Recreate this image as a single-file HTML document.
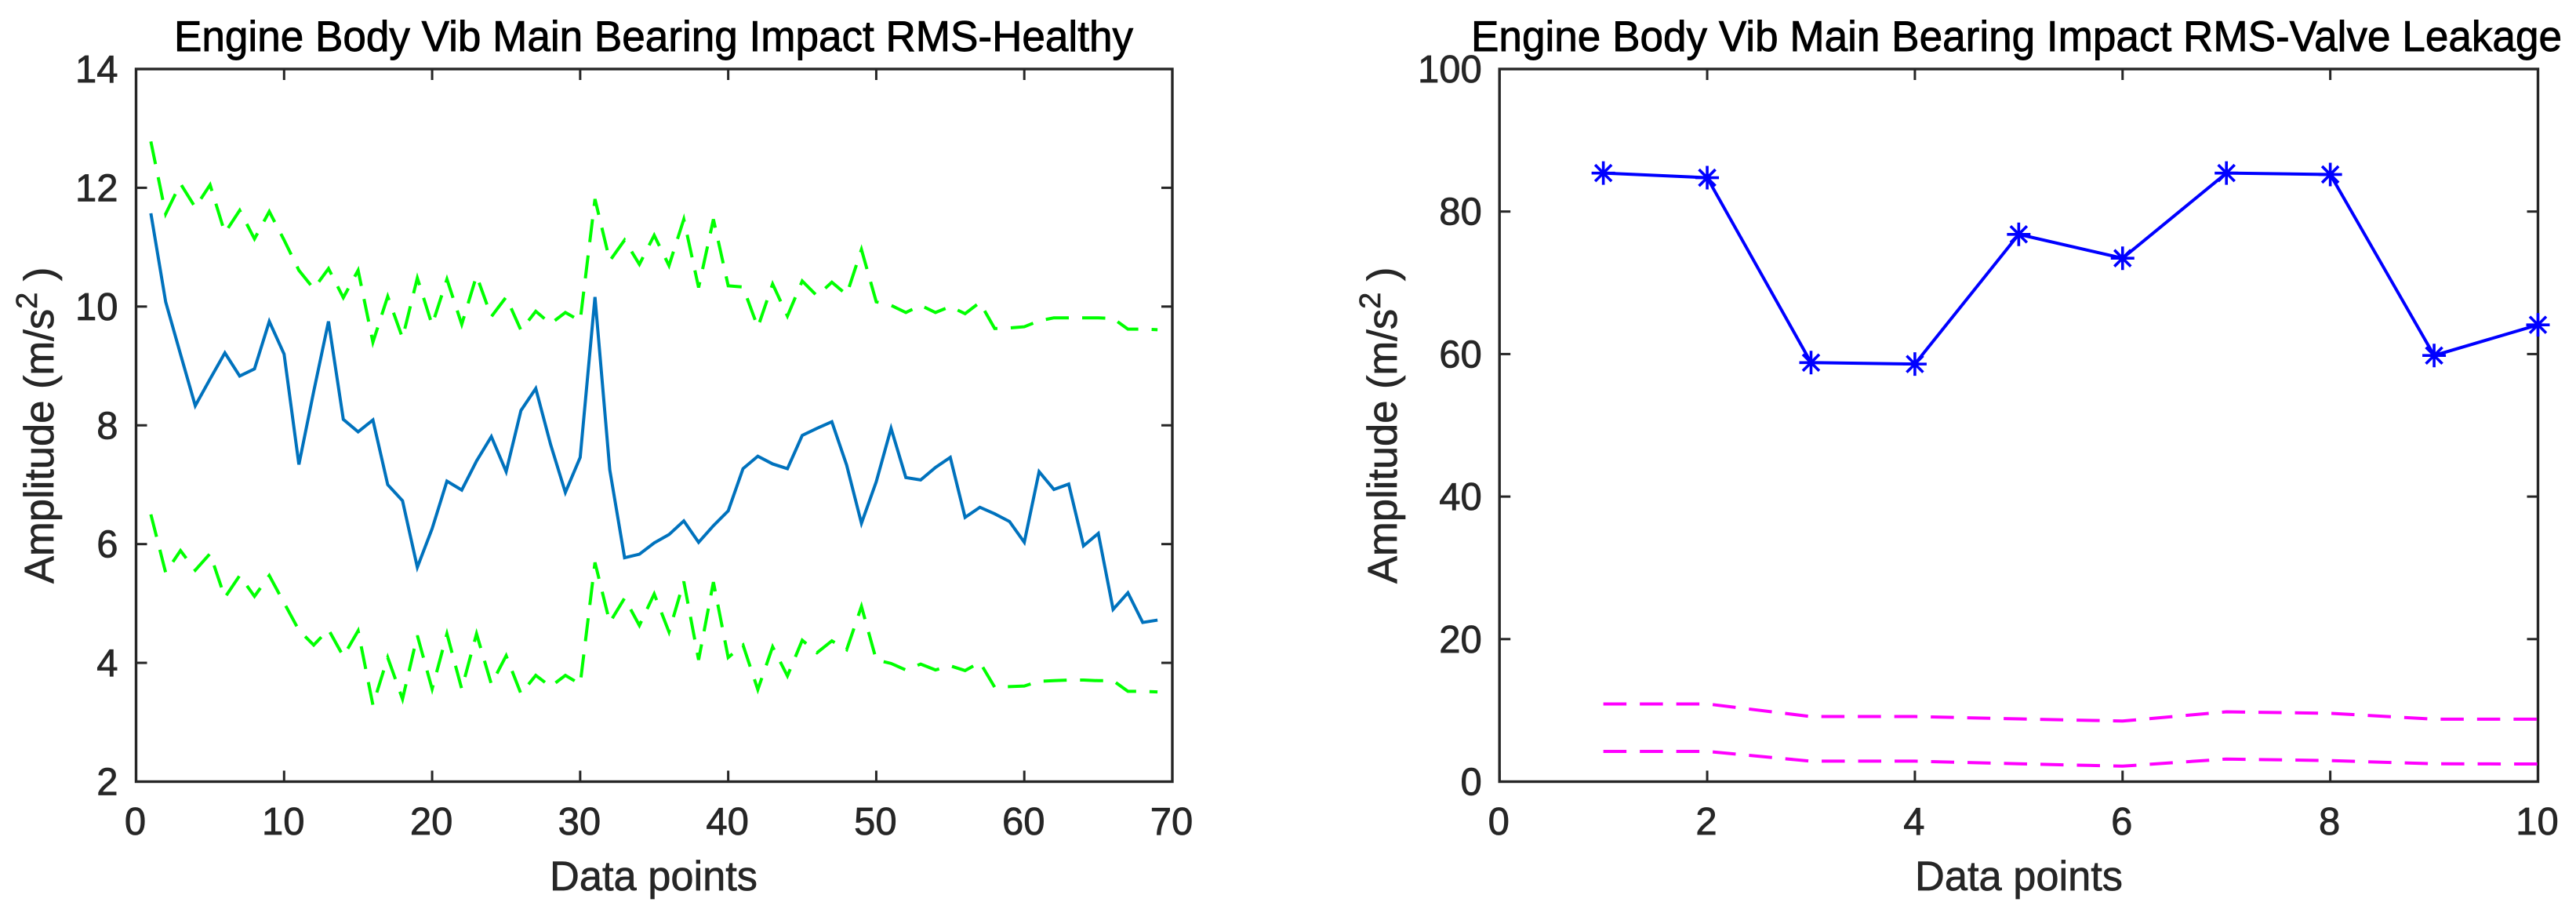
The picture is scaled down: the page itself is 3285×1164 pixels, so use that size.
<!DOCTYPE html>
<html lang="en">
<head>
<meta charset="utf-8">
<title>Engine Body Vib Main Bearing Impact RMS</title>
<style>
html,body{margin:0;padding:0;background:#fff;}
svg{display:block;}
text{font-family:"Liberation Sans",Arial,sans-serif;}
.tick{font-size:49px;fill:#262626;stroke:#262626;stroke-width:0.8px;}
.lab{font-size:52.5px;fill:#262626;stroke:#262626;stroke-width:0.7px;}
.ttl{font-size:55px;fill:#000;stroke:#000;stroke-width:0.9px;}
</style>
</head>
<body>
<svg id="chart" xmlns="http://www.w3.org/2000/svg" width="3285" height="1164" viewBox="0 0 3285 1164">
  <rect x="0" y="0" width="3285" height="1164" fill="#fff"/>
  <text class="ttl" x="222" y="65" textLength="1223" lengthAdjust="spacingAndGlyphs">Engine Body Vib Main Bearing Impact RMS-Healthy</text>
  <text class="ttl" x="1876" y="65" textLength="1391" lengthAdjust="spacingAndGlyphs">Engine Body Vib Main Bearing Impact RMS-Valve Leakage</text>
  <text class="lab" x="701" y="1135" textLength="265" lengthAdjust="spacingAndGlyphs">Data points</text>
  <text class="lab" x="2442" y="1135" textLength="265" lengthAdjust="spacingAndGlyphs">Data points</text>
  <text class="lab" transform="translate(68,744) rotate(-90)">Amplitude (m/s<tspan font-size="38" dy="-21">2</tspan><tspan dy="21"> )</tspan></text>
  <text class="lab" transform="translate(1781,744) rotate(-90)">Amplitude (m/s<tspan font-size="38" dy="-21">2</tspan><tspan dy="21"> )</tspan></text>
  <g id="left-plot"></g>
  <g id="right-plot"></g>
</svg>
<script>
// ---- Healthy panel data ----
const healthyXTicks = [0, 10, 20, 30, 40, 50, 60, 70];
const healthyYTicks = [2, 4, 6, 8, 10, 12, 14];
const healthyRms = [11.57,10.08,9.2,8.33,8.78,9.22,8.83,8.95,9.75,9.2,7.34,8.57,9.75,8.1,7.89,8.09,7.0,6.73,5.61,6.26,7.06,6.91,7.4,7.81,7.22,8.25,8.62,7.68,6.87,7.46,10.16,7.25,5.77,5.83,6.02,6.16,6.39,6.03,6.31,6.56,7.27,7.48,7.35,7.27,7.83,7.95,8.06,7.33,6.35,7.05,7.95,7.12,7.08,7.29,7.46,6.45,6.62,6.51,6.38,6.03,7.22,6.92,7.01,5.97,6.18,4.9,5.18,4.68,4.72];
const healthyUpper = [12.78,11.56,12.07,11.67,12.05,11.24,11.62,11.14,11.6,11.12,10.61,10.3,10.64,10.15,10.61,9.4,10.17,9.47,10.48,9.69,10.46,9.7,10.52,9.83,10.16,9.6,9.92,9.71,9.9,9.76,11.81,10.77,11.12,10.71,11.2,10.69,11.47,10.32,11.47,10.35,10.33,9.65,10.38,9.84,10.43,10.18,10.41,10.2,10.96,10.08,10.02,9.9,10.02,9.9,10.0,9.88,10.07,9.63,9.64,9.66,9.76,9.81,9.81,9.81,9.81,9.8,9.62,9.62,9.61];
const healthyLower = [6.5,5.52,5.89,5.56,5.84,5.1,5.47,5.12,5.47,5.01,4.55,4.3,4.56,4.11,4.54,3.29,4.09,3.39,4.46,3.56,4.49,3.56,4.49,3.64,4.12,3.48,3.79,3.6,3.79,3.64,5.69,4.68,5.09,4.63,5.16,4.52,5.37,4.05,5.36,4.09,4.3,3.55,4.27,3.78,4.38,4.17,4.37,4.22,4.95,4.05,3.99,3.88,3.98,3.88,3.95,3.87,4.01,3.59,3.6,3.61,3.69,3.7,3.71,3.71,3.7,3.7,3.52,3.52,3.51];

// ---- Valve leakage panel data ----
const leakXTicks = [0, 2, 4, 6, 8, 10];
const leakYTicks = [0, 20, 40, 60, 80, 100];
const leakRms = [85.4,84.75,58.8,58.6,76.8,73.45,85.4,85.2,59.8,64.1];
const leakUpper = [10.9,10.9,9.13,9.13,8.8,8.5,9.8,9.58,8.77,8.77];
const leakLower = [4.24,4.24,2.87,2.87,2.5,2.17,3.17,2.95,2.5,2.47];

const NS = 'http://www.w3.org/2000/svg';
const AXIS_COLOR = '#262626';

function make(tag, attrs, parent) {
  const el = document.createElementNS(NS, tag);
  for (const k in attrs) el.setAttribute(k, attrs[k]);
  parent.appendChild(el);
  return el;
}

function scale(d0, d1, r0, r1) {
  return function (v) { return r0 + (v - d0) * (r1 - r0) / (d1 - d0); };
}

function drawAxes(parent, x, y, xTicks, yTicks, box, yLabelX) {
  const frame = make('rect', {x: box.l, y: box.t, width: box.r - box.l, height: box.b - box.t, fill: 'none', stroke: AXIS_COLOR, 'stroke-width': 3.4}, parent);
  
  
  xTicks.forEach(function (t) {
    const px = x(t);
    const low = make('line', {x1: px, x2: px, y1: box.b, y2: box.b - 14, stroke: AXIS_COLOR, 'stroke-width': 3}, parent);
    
    
    const high = make('line', {x1: px, x2: px, y1: box.t, y2: box.t + 14, stroke: AXIS_COLOR, 'stroke-width': 3}, parent);
    
    
    const label = make('text', {x: px - 1, y: 1064, 'text-anchor': 'middle', class: 'tick'}, parent);
    
    
    label.textContent = t;
  });
  yTicks.forEach(function (t) {
    const py = y(t);
    const left = make('line', {x1: box.l, x2: box.l + 14, y1: py, y2: py, stroke: AXIS_COLOR, 'stroke-width': 3}, parent);
    
    
    const right = make('line', {x1: box.r, x2: box.r - 14, y1: py, y2: py, stroke: AXIS_COLOR, 'stroke-width': 3}, parent);
    
    
    const label = make('text', {x: yLabelX, y: py + 17, 'text-anchor': 'end', class: 'tick'}, parent);
    
    
    label.textContent = t;
  });
}

function drawLine(parent, values, x, y, color, dashed, name) {
  const pts = values.map(function (v, i) { return x(i + 1) + ',' + y(v); }).join(' ');
  const line = make('polyline', {points: pts, fill: 'none', stroke: color, 'stroke-width': 4, 'stroke-linejoin': 'miter'}, parent);
  if (dashed) line.setAttribute('stroke-dasharray', '29.5 17');
  
  
}

function drawStars(parent, values, x, y, color) {
  values.forEach(function (v, i) {
    const cx = x(i + 1), cy = y(v), r = 15, d = 10.5;
    const star = make('path', {
      d: 'M' + (cx - r) + ' ' + cy + 'H' + (cx + r) +
         'M' + cx + ' ' + (cy - r) + 'V' + (cy + r) +
         'M' + (cx - d) + ' ' + (cy - d) + 'L' + (cx + d) + ' ' + (cy + d) +
         'M' + (cx - d) + ' ' + (cy + d) + 'L' + (cx + d) + ' ' + (cy - d),
      fill: 'none', stroke: color, 'stroke-width': 3.6
    }, parent);
    
    
  });
}

// ---- Left panel ----
const leftBox = {l: 173.5, r: 1495, t: 88, b: 996.5};
const leftX = scale(0, 70, leftBox.l, leftBox.r);
const leftY = scale(2, 14, leftBox.b, leftBox.t);
const leftPlot = document.getElementById('left-plot');
drawLine(leftPlot, healthyUpper, leftX, leftY, '#00ff00', true, 'healthy-upper-limit-line');
drawLine(leftPlot, healthyLower, leftX, leftY, '#00ff00', true, 'healthy-lower-limit-line');
drawLine(leftPlot, healthyRms, leftX, leftY, '#0072bd', false, 'healthy-rms-line');
drawAxes(leftPlot, leftX, leftY, healthyXTicks, healthyYTicks, leftBox, 150.5);

// ---- Right panel ----
const rightBox = {l: 1912.2, r: 3236.5, t: 88, b: 996.5};
const rightX = scale(0, 10, rightBox.l, rightBox.r);
const rightY = scale(0, 100, rightBox.b, rightBox.t);
const rightPlot = document.getElementById('right-plot');
drawAxes(rightPlot, rightX, rightY, leakXTicks, leakYTicks, rightBox, 1889.8);
drawLine(rightPlot, leakUpper, rightX, rightY, '#ff00ff', true, 'leakage-upper-limit-line');
drawLine(rightPlot, leakLower, rightX, rightY, '#ff00ff', true, 'leakage-lower-limit-line');
drawLine(rightPlot, leakRms, rightX, rightY, '#0000ff', false, 'leakage-rms-line');
drawStars(rightPlot, leakRms, rightX, rightY, '#0000ff');
</script>
</body>
</html>
